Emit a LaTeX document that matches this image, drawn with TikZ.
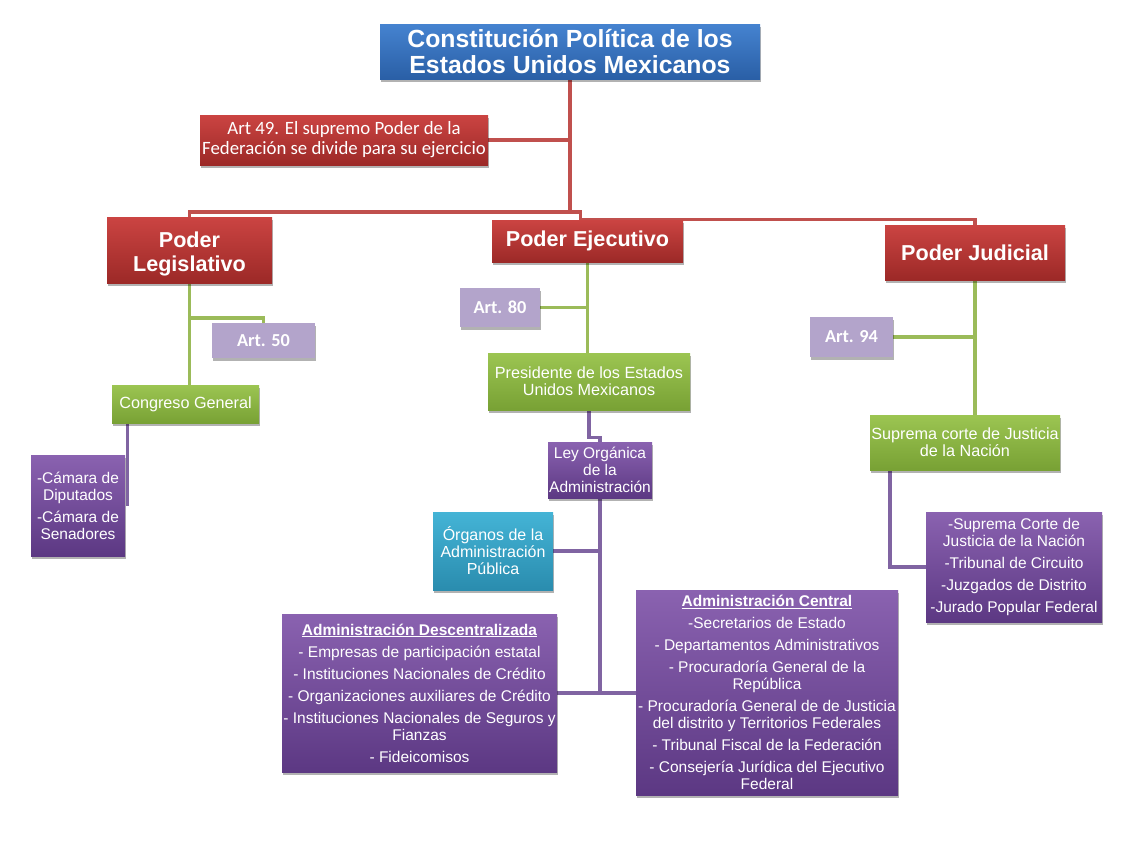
\documentclass[tikz,border=0pt]{standalone}
\usepackage{fontspec}
\setmainfont{Liberation Sans}
\newfontfamily\calib{Carlito}
\usetikzlibrary{shadows,backgrounds}
\definecolor{redT}{HTML}{CB4442}
\definecolor{redB}{HTML}{9C2927}
\definecolor{blueT}{HTML}{4583D0}
\definecolor{blueB}{HTML}{2A5FA6}
\definecolor{greenT}{HTML}{9CC552}
\definecolor{greenB}{HTML}{78A134}
\definecolor{purT}{HTML}{8A62B0}
\definecolor{purB}{HTML}{5C3883}
\definecolor{lilac}{HTML}{B3A4CB}
\definecolor{tealT}{HTML}{44B4D6}
\definecolor{tealB}{HTML}{2A8CAE}
\definecolor{redL}{HTML}{C0504D}
\definecolor{greenL}{HTML}{9BBB59}
\definecolor{purL}{HTML}{8064A2}
\begin{document}
\begin{tikzpicture}[x=1pt,y=-1pt,
  box/.style={rectangle, inner sep=0pt, align=center, text=white,
    drop shadow={shadow xshift=1pt, shadow yshift=-2.5pt, fill=black, opacity=0.3}},
  redbox/.style={box, top color=redT, bottom color=redB},
  bluebox/.style={box, top color=blueT, bottom color=blueB},
  greenbox/.style={box, top color=greenT, bottom color=greenB, font=\fontsize{16.2}{17}\selectfont},
  purbox/.style={box, top color=purT, bottom color=purB, font=\fontsize{15.5}{17}\selectfont},
  lilacbox/.style={box, fill=lilac, font=\calib\bfseries\fontsize{18.3}{20}\selectfont},
  tealbox/.style={box, top color=tealT, bottom color=tealB, font=\fontsize{16}{17}\selectfont},
  poder/.style={redbox, font=\bfseries\fontsize{21.6}{24}\selectfont},
  redline/.style={draw=redL, line width=3.3pt},
  greenline/.style={draw=greenL, line width=3.3pt},
  purline/.style={draw=purL, line width=3.3pt}
]
\useasboundingbox (0,0) rectangle (1125,844);

% nodes
\node[bluebox, minimum width=380pt, minimum height=55pt, font=\bfseries\fontsize{24.8}{26}\selectfont] (title) at (570,51.5)
  {Constitución Política de los\\Estados Unidos Mexicanos};
\node[redbox, minimum width=288pt, minimum height=50pt, font=\calib\fontsize{18.8}{20}\selectfont] (art49) at (344,140)
  {Art 49. El supremo Poder de la\\Federación se divide para su ejercicio};
\node[poder, minimum width=165pt, minimum height=66pt] (leg) at (189.5,250)
  {\raisebox{-4pt}[\height][\depth]{\parbox{160pt}{\centering Poder\\Legislativo}}};
\node[poder, minimum width=191pt, minimum height=42pt] (eje) at (587.5,241) {Poder Ejecutivo};
\node[poder, minimum width=180pt, minimum height=55pt] (jud) at (975,252.5) {Poder Judicial};

\node[lilacbox, minimum width=103pt, minimum height=35pt] (art50) at (263.5,340.5) {Art. 50};
\node[greenbox, minimum width=147pt, minimum height=38pt] (cong) at (185.5,404) {Congreso General};
\node[purbox, minimum width=94pt, minimum height=101pt] (cam) at (78,505.5)
  {-Cámara de\\Diputados\\[5pt]-Cámara de\\Senadores};

\node[lilacbox, minimum width=80pt, minimum height=39pt] (art80) at (500,307.5) {Art. 80};
\node[greenbox, minimum width=202pt, minimum height=57pt] (pres) at (589,381.5)
  {Presidente de los Estados\\Unidos Mexicanos};
\node[purbox, minimum width=104pt, minimum height=56pt] (ley) at (600,470)
  {Ley Orgánica\\de la\\Administración};
\node[tealbox, minimum width=120pt, minimum height=78pt] (org) at (493,551)
  {Órganos de la\\Administración\\Pública};
\node[purbox, minimum width=275pt, minimum height=158pt] (desc) at (419.5,693)
  {\underline{\textbf{Administración Descentralizada}}\\[5pt]
   - Empresas de participación estatal\\[5pt]
   - Instituciones Nacionales de Crédito\\[5pt]
   - Organizaciones auxiliares de Crédito\\[5pt]
   - Instituciones Nacionales de Seguros y\\Fianzas\\[5pt]
   - Fideicomisos};
\node[purbox, minimum width=262pt, minimum height=205pt] (cen) at (767,692.5)
  {\underline{\textbf{Administración Central}}\\[5pt]
   -Secretarios de Estado\\[5pt]
   - Departamentos Administrativos\\[5pt]
   - Procuradoría General de la\\República\\[5pt]
   - Procuradoría General de de Justicia\\del distrito y Territorios Federales\\[5pt]
   - Tribunal Fiscal de la Federación\\[5pt]
   - Consejería Jurídica del Ejecutivo\\Federal};

\node[lilacbox, minimum width=83pt, minimum height=40pt] (art94) at (851.5,337) {Art. 94};
\node[greenbox, minimum width=190pt, minimum height=55pt] (sup) at (965,442.5)
  {Suprema corte de Justicia\\de la Nación};
\node[purbox, minimum width=176pt, minimum height=110pt] (jlist) at (1014,567)
  {-Suprema Corte de\\Justicia de la Nación\\[5pt]
   -Tribunal de Circuito\\[5pt]
   -Juzgados de Distrito\\[5pt]
   -Jurado Popular Federal};

% connectors
\begin{scope}[on background layer]
\coordinate (j1) at (570,212);
\draw[redline] (title.south) -- (j1);
\draw[redline] (art49.east) -- (art49.east -| j1);
\draw[redline] (j1) -| (leg.north);
\draw[redline] (j1) -| ([xshift=-7pt]eje.north);
\draw[redline] ([xshift=-7pt]eje.north) -| (jud.north);

\draw[greenline] (leg.south) -- (leg.south |- cong.north);
\draw[greenline] (leg.south |- 0,318) -| (art50.north);
\draw[purline] ([xshift=2pt]cam.east |- cong.south) -- ([xshift=2pt]cam.east);

\draw[greenline] (eje.south) -- (eje.south |- pres.north);
\draw[greenline] (art80.east) -- (art80.east -| eje.south);
\draw[purline] (pres.south) |- ([yshift=4pt]ley.north) -- (ley.north);
\draw[purline] (ley.south) -- (ley.south |- desc.east);
\draw[purline] (org.east) -- (org.east -| ley.south);
\draw[purline] (desc.east) -- (cen.west |- desc.east);

\draw[greenline] (jud.south) -- (jud.south |- sup.north);
\draw[greenline] (art94.east) -- (art94.east -| jud.south);
\draw[purline] ([xshift=-75pt]sup.south) |- (jlist.west);
\end{scope}
\end{tikzpicture}
\end{document}
